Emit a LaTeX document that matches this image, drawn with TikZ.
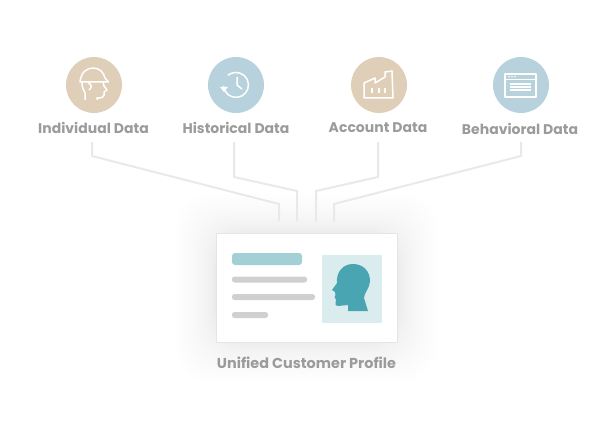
\documentclass[tikz,border=0pt]{standalone}
\usepackage{fontspec}
\setmainfont{Poppins}
\usetikzlibrary{positioning}
\definecolor{sand}{HTML}{E0CFB8}
\definecolor{mist}{HTML}{B7D2DC}
\definecolor{tagtxt}{HTML}{9B9B9B}
\definecolor{wirecol}{HTML}{E9E9E9}
\definecolor{tealbar}{HTML}{A3D0D6}
\definecolor{greybar}{HTML}{CFD0CF}
\definecolor{photobg}{HTML}{DBECEF}
\definecolor{headcol}{HTML}{4AA5B3}

\begin{document}
\begin{tikzpicture}[x=1pt,y=-1pt,
    badge/.style={circle, minimum size=56pt, inner sep=0pt},
    tag/.style={text=tagtxt, font=\fontsize{14}{16}\selectfont\bfseries, inner sep=0pt},
    wire/.style={draw=wirecol, line width=2pt},
    glyph/.style={draw=white, line width=1.5pt, line join=round},
    bar/.style={fill=greybar, rounded corners=2.5pt}]
    \useasboundingbox (0,0) rectangle (600,425);
    % Shadow
    \foreach \g in {1,...,24} {
        \pgfmathsetmacro{\d}{44*(1-(1-\g/24)^2)}
        \fill[black, opacity=0.004, rounded corners=34pt] (172+\d,190+\d) rectangle (441-\d,385-\d);
    }
    % Badges
    \node[badge, fill=sand] (individual) at (94,85) {};
    \node[badge, fill=mist] (historical) at (236,85) {};
    \node[badge, fill=sand] (account) at (379,85) {};
    \node[badge, fill=mist] (behavioral) at (521,85) {};
    % Labels
    \node[tag] (individualtag) at (93.5,128) {Individual Data};
    \node[tag] (historicaltag) at (236,128) {Historical Data};
    \node[tag] (accounttag) at (378,128) {Account Data};
    \node[tag] (behavioraltag) at (520,129) {Behavioral Data};
    % Helmet
    \begin{scope}[shift={(individual.center)}]
        \draw[glyph] (-14,-3) .. controls (-13,-13) and (-7,-17) .. (-1,-17) .. controls (6,-17) and (10,-12) .. (11,-7) -- (14.5,-3) -- cycle;
        \draw[glyph] (-12,-3) .. controls (-12,2) and (-11,5) .. (-9,8) -- (-9,15);
        \draw[glyph] (9,-3) -- (10,1) -- (13,5) -- (10,7) -- (10,10) .. controls (10,12) and (8,13) .. (3,13) -- (3,15);
        \draw[glyph] (-6,-2) .. controls (-2,-1) and (-2,3) .. (-5,5);
    \end{scope}
    % Clock
    \begin{scope}[shift={(historical.center)}]
        \draw[glyph] (-12.5,1) arc[start angle=175, end angle=-130, radius=12.5];
        \fill[white] (-16,2) -- (-8,2) -- (-12,7) -- cycle;
        \draw[glyph] (1,-8) -- (1,0) -- (6,4);
    \end{scope}
    % Factory
    \begin{scope}[shift={(account.center)}]
        \draw[glyph] (-15,13) -- (-15,-2) -- (-4,-7) -- (-4,-2) -- (6,-8) -- (6,-13) -- (13,-14) -- (14,13) -- cycle;
        \foreach \wx in {-7,0,6}
            \draw[glyph] (\wx,3) -- (\wx,8);
    \end{scope}
    % Window
    \begin{scope}[shift={(behavioral.center)}]
        \draw[glyph] (-16,-11) rectangle (15,12);
        \draw[glyph] (-16,-5.5) -- (15,-5.5);
        \foreach \wx in {-12,-9,-6}
            \fill[white] (\wx,-8.3) circle (0.9);
        \foreach \wy in {-1,2,5}
            \draw[glyph, line width=1.1pt] (-11,\wy) -- (10,\wy);
    \end{scope}
    % Card
    \node[fill=white, draw=black!10, line width=0.5pt, minimum width=181pt, minimum height=109pt, inner sep=0pt] (card) at (306.5,287.5) {};
    \fill[tealbar, rounded corners=3pt] (232,253) rectangle (302,265);
    \fill[bar] (232,276.5) rectangle (307,282.5);
    \fill[bar] (232,294) rectangle (315,300);
    \fill[bar] (232,312) rectangle (268,318);
    \node[fill=photobg, minimum width=60pt, minimum height=68pt, inner sep=0pt] (photo) at (352,289) {};
    \fill[headcol] (368,311) -- (348,311) -- (348,305) -- (338,306) .. controls (336,306) and (335,305) .. (335.5,303) -- (336,300) -- (334.5,297) -- (335.5,295) -- (335,292) -- (332,290) -- (337,283) .. controls (336,272) and (343,264) .. (353,264) .. controls (363,264) and (370,271) .. (370,281) .. controls (370,288) and (364,293) .. (364,298) -- cycle;
    \node[tag, font=\fontsize{14.4}{16}\selectfont\bfseries, below=15pt of card] (profile) {Unified Customer Profile};
    % Wires
    \coordinate (wa) at (92,142);
    \coordinate (wb) at (234,142);
    \coordinate (wc) at (378,142);
    \coordinate (wd) at (521,142);
    \coordinate (za) at (279,221);
    \coordinate (zb) at (297,221);
    \coordinate (zc) at (316,221);
    \coordinate (zd) at (334,221);
    \draw[wire] (wa) -- (92,156) -- (279,204) -- (za);
    \draw[wire] (wb) -- (234,177) -- (297,191) -- (zb);
    \draw[wire] (wc) -- (378,177) -- (316,191) -- (zc);
    \draw[wire] (wd) -- (521,156) -- (334,204) -- (zd);
\end{tikzpicture}
\end{document}
